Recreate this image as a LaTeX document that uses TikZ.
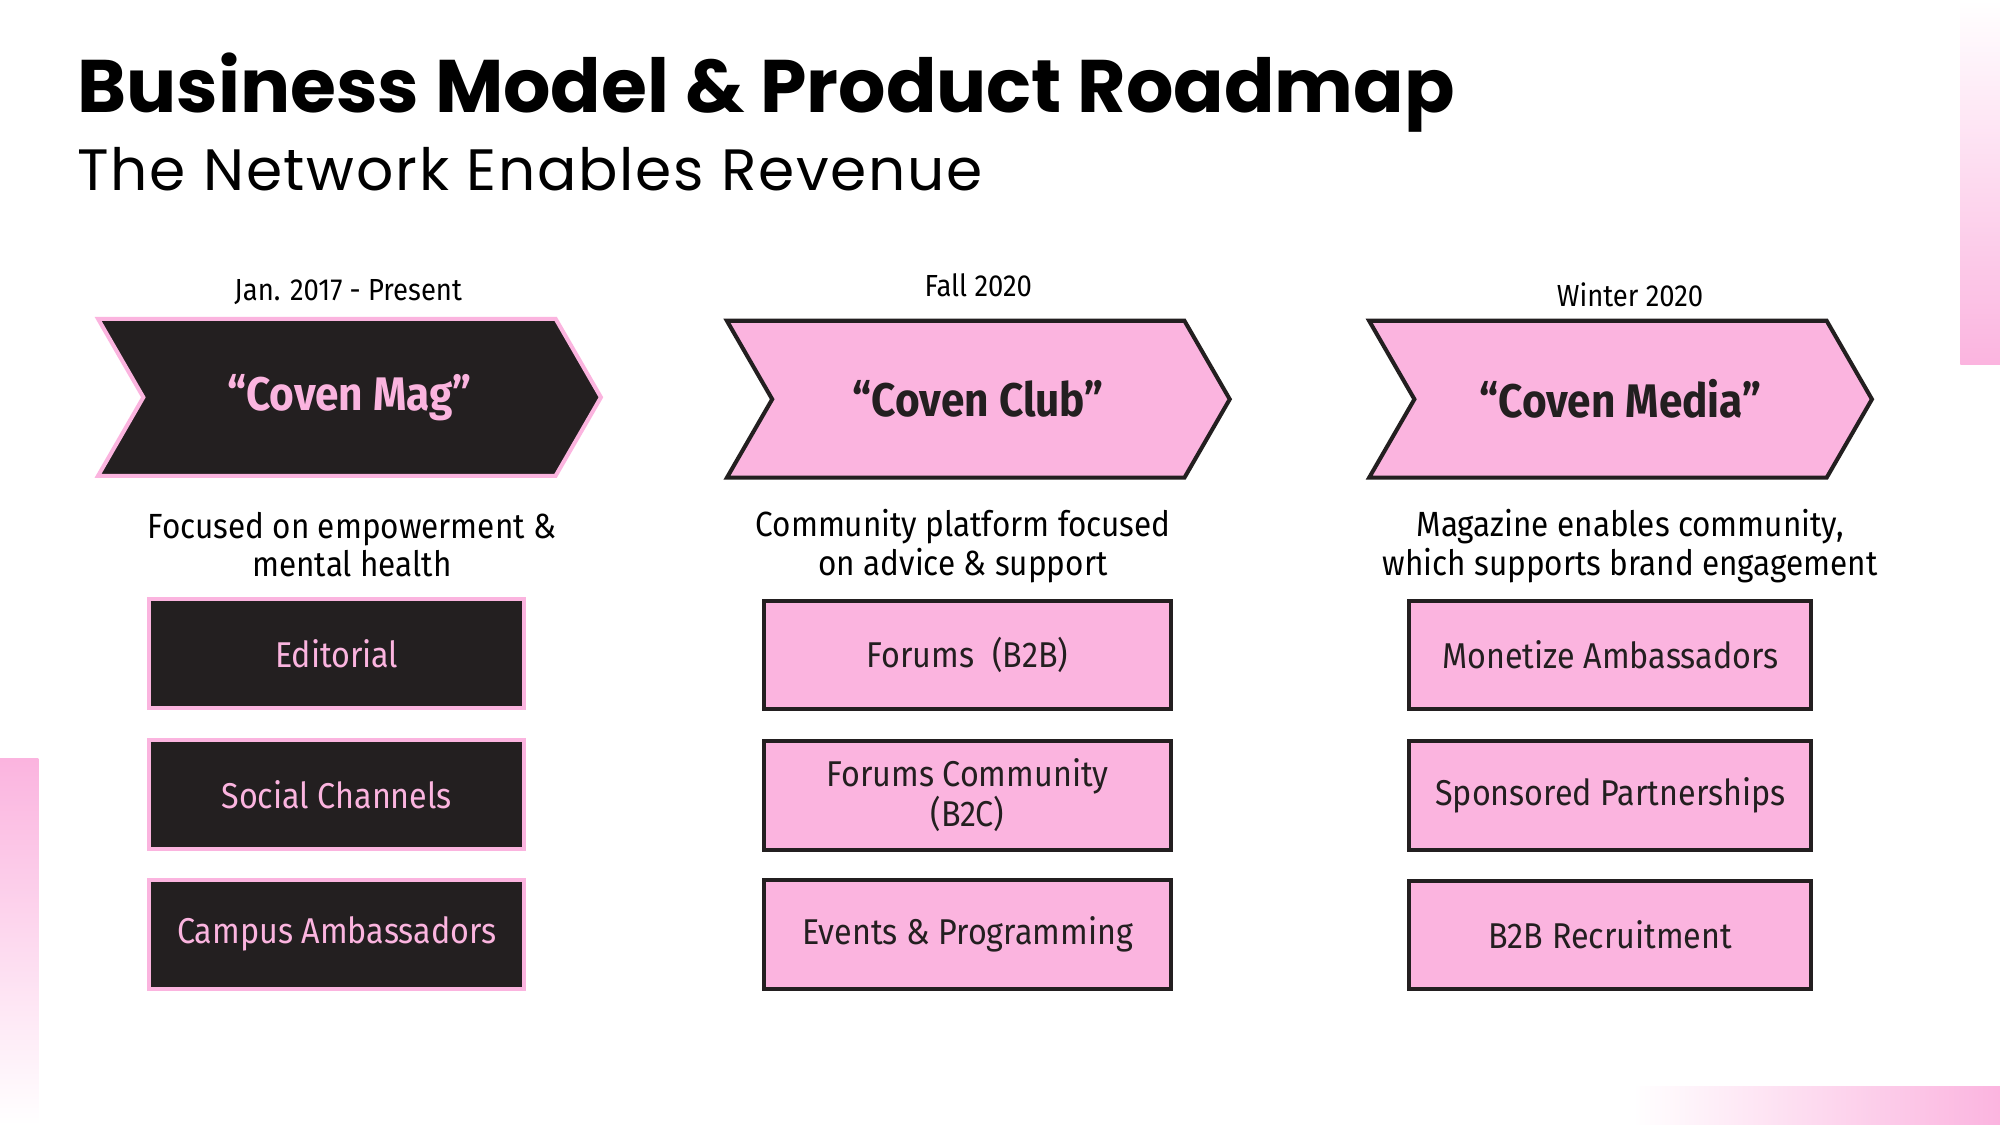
\documentclass[tikz,border=0pt]{standalone}
\usepackage{fontspec}
\setmainfont{Fira Sans}[FakeStretch=0.9]
\newfontfamily\headfont{Poppins}
\newfontfamily\subfont{Poppins}[LetterSpace=3]
\usetikzlibrary{shapes.symbols,positioning}

\definecolor{covenpink}{HTML}{FBB4DF}
\definecolor{covendark}{HTML}{231F20}

\tikzset{
  chevron/.style={shape=signal, signal from=west, signal to=east, signal pointer angle=120,
    minimum width=3.94cm, minimum height=1.23cm, line width=0.9pt, inner sep=0pt,
    font=\fontsize{10.5}{12.5}\selectfont\bfseries},
  darkchev/.style={chevron, fill=covendark, draw=covenpink, text=covenpink},
  pinkchev/.style={chevron, fill=covenpink, draw=covendark, text=covendark},
  item/.style={rectangle, minimum height=0.85cm, line width=0.9pt, align=center, inner sep=0pt,
    font=\fontsize{8}{8.8}\selectfont},
  darkitem/.style={item, fill=covendark, draw=covenpink, text=covenpink, minimum width=2.94cm},
  pinkitem/.style={item, fill=covenpink, draw=covendark, text=covendark},
  when/.style={font=\fontsize{6.8}{8}\selectfont},
  blurb/.style={align=center, font=\fontsize{7.8}{8.6}\selectfont},
}

\begin{document}
\begin{tikzpicture}[x=0.01cm, y=-0.01cm]
            \fill[white] (0,0) rectangle (1568,882);
            \useasboundingbox (0,0) rectangle (1568,882);

            % corner strips
            \shade[top color=white, bottom color=covenpink] (1537,0) rectangle (1568,286);
            \shade[top color=covenpink, bottom color=white] (0,595) rectangle (30,882);
            \shade[left color=white, right color=covenpink] (1280,852) rectangle (1568,882);

            \node[anchor=base west, inner sep=0] (title) at (60,88) {\headfont\bfseries\fontsize{16.6}{20}\selectfont Business Model \& Product Roadmap};
            \node[anchor=base west, inner sep=0] (subtitle) at (60,149) {\subfont\fontsize{13}{16}\selectfont The Network Enables Revenue};

            % phases
            \node[when] (magdate) at (273,229) {Jan. 2017 - Present};
            \node[when] (clubdate) at (767,224) {Fall 2020};
            \node[when] (mediadate) at (1278,231) {Winter 2020};

            \node[darkchev] (mag) at (274,311.5) {“Coven Mag”};
            \node[pinkchev] (club) at (767,313) {“Coven Club”};
            \node[pinkchev] (media) at (1270.5,313) {“Coven Media”};

            \node[blurb] (magtext) at (276,427) {Focused on empowerment \&\\mental health};
            \node[blurb] (clubtext) at (755,428) {Community platform focused\\on advice \& support};
            \node[blurb] (mediatext) at (1278,428) {Magazine enables community,\\which supports brand engagement};

            % revenue streams
            \node[darkitem] (editorial) at (264,512.5) {Editorial};
            \node[darkitem] (social) at (264,623) {Social Channels};
            \node[darkitem] (campus) at (264,732.5) {Campus Ambassadors};

            \node[pinkitem, minimum width=3.19cm] (forumsbb) at (758.5,513.5) {Forums\enspace(B2B)};
            \node[pinkitem, minimum width=3.19cm] (forumsbc) at (758.5,623.5) {Forums Community\\(B2C)};
            \node[pinkitem, minimum width=3.19cm] (events) at (758.5,732.5) {Events \& Programming};

            \node[pinkitem, minimum width=3.15cm] (monetize) at (1262.5,513.5) {Monetize Ambassadors};
            \node[pinkitem, minimum width=3.15cm] (sponsored) at (1262.5,623.5) {Sponsored Partnerships};
            \node[pinkitem, minimum width=3.15cm] (recruit) at (1262.5,733) {B2B Recruitment};
\end{tikzpicture}
\end{document}
